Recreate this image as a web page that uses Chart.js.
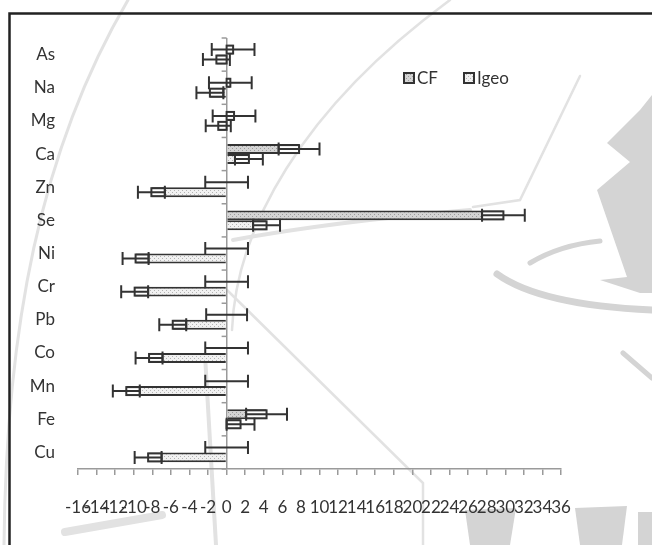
<!DOCTYPE html>
<html>
<head>
<meta charset="utf-8">
<script src="https://cdn.jsdelivr.net/npm/chart.js@4.4.0/dist/chart.umd.min.js"></script>
<style>
  html, body { margin: 0; padding: 0; background: #fff; }
</style>
</head>
<body>
<canvas id="myChart" width="652" height="545"></canvas>
<script>
// categories, top to bottom
const elements = ["As", "Na", "Mg", "Ca", "Zn", "Se", "Ni", "Cr", "Pb", "Co", "Mn", "Fe", "Cu"];
const cfValues = [0.7, 0.4, 0.8, 7.8, 0, 29.8, 0, 0, 0, 0, 0, 4.3, 0];
const cfErrors = [2.3, 2.3, 2.3, 2.2, 2.3, 2.3, 2.3, 2.3, 2.2, 2.3, 2.3, 2.2, 2.3];
const igeoValues = [-1.1, -1.8, -0.9, 2.4, -8.1, 4.3, -9.8, -9.9, -5.8, -8.35, -10.8, 1.5, -8.45];
const igeoErrors = [1.45, 1.45, 1.35, 1.5, 1.45, 1.45, 1.4, 1.45, 1.45, 1.45, 1.45, 1.5, 1.45];
const xMin = -16;
const xMax = 36;
const xStep = 2;

const FONT = "Lato, 'Open Sans', sans-serif";
const ink = "#333";

function dotPattern(bg, dot) {
  const c = document.createElement("canvas");
  c.width = 4;
  c.height = 4;
  const g = c.getContext("2d");
  g.fillStyle = bg;
  g.fillRect(0, 0, 4, 4);
  g.fillStyle = dot;
  g.fillRect(0, 0, 1, 1);
  g.fillRect(2, 2, 1, 1);
  return g.createPattern(c, "repeat");
}
const cfFill = dotPattern("#d4d4d4", "#9c9c9c");
const igeoFill = dotPattern("#f1f1f1", "#b4b4b4");

// faint watermark behind the chart + outer frame
const background = {
  id: "background",
  beforeDraw(chart) {
    const ctx = chart.ctx;
    ctx.save();
    ctx.fillStyle = "#fff";
    ctx.fillRect(0, 0, chart.width, chart.height);

    ctx.strokeStyle = "#e2e2e2";
    ctx.lineCap = "round";
    ctx.lineWidth = 3;
    ctx.beginPath();
    ctx.moveTo(4, 545);
    ctx.bezierCurveTo(6, 330, 40, 150, 128, 0);
    ctx.stroke();
    ctx.lineWidth = 2.5;
    ctx.beginPath();
    ctx.moveTo(232, 330);
    ctx.bezierCurveTo(236, 230, 300, 110, 450, 0);
    ctx.stroke();
    ctx.beginPath();
    ctx.moveTo(473, 207);
    ctx.lineTo(520, 200);
    ctx.lineTo(580, 76);
    ctx.stroke();
    ctx.beginPath();
    ctx.moveTo(227, 290);
    ctx.lineTo(423, 483);
    ctx.lineTo(423, 545);
    ctx.stroke();
    ctx.lineWidth = 4;
    ctx.beginPath();
    ctx.moveTo(233, 240);
    ctx.quadraticCurveTo(330, 222, 470, 210);
    ctx.stroke();
    ctx.beginPath();
    ctx.moveTo(205, 355);
    ctx.lineTo(216, 545);
    ctx.stroke();
    ctx.lineWidth = 8;
    ctx.beginPath();
    ctx.moveTo(65, 532);
    ctx.lineTo(162, 515);
    ctx.stroke();

    ctx.fillStyle = "#d4d4d4";
    ctx.beginPath();
    ctx.moveTo(652, 95);
    ctx.lineTo(640, 110);
    ctx.lineTo(607, 143);
    ctx.lineTo(630, 162);
    ctx.lineTo(597, 190);
    ctx.lineTo(627, 277);
    ctx.lineTo(600, 280);
    ctx.lineTo(640, 293);
    ctx.lineTo(652, 293);
    ctx.closePath();
    ctx.fill();
    ctx.strokeStyle = "#d4d4d4";
    ctx.lineWidth = 7;
    ctx.beginPath();
    ctx.moveTo(497, 274);
    ctx.quadraticCurveTo(540, 305, 652, 310);
    ctx.stroke();
    ctx.lineWidth = 5;
    ctx.beginPath();
    ctx.moveTo(530, 263);
    ctx.quadraticCurveTo(560, 245, 600, 241);
    ctx.stroke();
    ctx.beginPath();
    ctx.moveTo(623, 353);
    ctx.lineTo(652, 378);
    ctx.stroke();
    ctx.beginPath();
    ctx.moveTo(465, 510);
    ctx.lineTo(516, 508);
    ctx.lineTo(510, 545);
    ctx.lineTo(470, 545);
    ctx.closePath();
    ctx.fill();
    ctx.beginPath();
    ctx.moveTo(575, 508);
    ctx.lineTo(627, 506);
    ctx.lineTo(622, 545);
    ctx.lineTo(580, 545);
    ctx.closePath();
    ctx.fill();
    ctx.fillRect(638, 512, 14, 33);

    ctx.strokeStyle = "#222";
    ctx.lineWidth = 2.5;
    ctx.strokeRect(9.5, 13.5, 700, 600);
    ctx.restore();
  },
};

// ticks on the category axis at x = 0, error bars and legend
const overlay = {
  id: "overlay",
  afterDatasetsDraw(chart) {
    const ctx = chart.ctx;
    const xs = chart.scales.x;
    const area = chart.chartArea;
    const x0 = xs.getPixelForValue(0);
    const n = elements.length;

    ctx.save();
    ctx.strokeStyle = "#9a9a9a";
    ctx.lineWidth = 1.5;
    for (let i = 0; i <= n; i++) {
      const y = area.top + (i * (area.bottom - area.top)) / n;
      ctx.beginPath();
      ctx.moveTo(x0 - 5, y);
      ctx.lineTo(x0, y);
      ctx.stroke();
    }

    const errs = [cfErrors, igeoErrors];
    chart.data.datasets.forEach((ds, d) => {
      chart.getDatasetMeta(d).data.forEach((bar, i) => {
        const v = ds.data[i];
        const e = errs[d][i];
        const h = bar.height;
        const y = bar.y;
        const lo = xs.getPixelForValue(v - e);
        const hi = xs.getPixelForValue(v + e);
        const xv = xs.getPixelForValue(v);
        const a = v >= 0 ? Math.max(lo, x0) : xv;
        const b = v >= 0 ? xv : Math.min(hi, x0);
        ctx.strokeStyle = ink;
        ctx.lineWidth = 2;
        if (b - a > 1) {
          ctx.fillStyle = "#fff";
          ctx.fillRect(a, y - h / 2 + 1, b - a, h - 2);
          ctx.strokeRect(a, y - h / 2 + 1, b - a, h - 2);
        }
        ctx.beginPath();
        ctx.moveTo(lo, y);
        ctx.lineTo(hi, y);
        ctx.moveTo(lo, y - 6.5);
        ctx.lineTo(lo, y + 6.5);
        ctx.moveTo(hi, y - 6.5);
        ctx.lineTo(hi, y + 6.5);
        ctx.stroke();
      });
    });

    // legend inside the plot
    const items = [
      { label: chart.data.datasets[0].label, fill: cfFill, x: 404 },
      { label: chart.data.datasets[1].label, fill: igeoFill, x: 464 },
    ];
    ctx.font = "17px " + FONT;
    ctx.textBaseline = "middle";
    ctx.textAlign = "left";
    items.forEach((it) => {
      ctx.fillStyle = it.fill;
      ctx.fillRect(it.x, 73, 10, 10);
      ctx.strokeStyle = ink;
      ctx.lineWidth = 2;
      ctx.strokeRect(it.x, 73, 10, 10);
      ctx.fillStyle = ink;
      ctx.fillText(it.label, it.x + 13, 79);
    });
    ctx.restore();
  },
};

new Chart(document.getElementById("myChart"), {
  type: "bar",
  data: {
    labels: elements,
    datasets: [
      {
        label: "CF",
        data: cfValues,
        backgroundColor: cfFill,
        borderColor: ink,
        borderWidth: 2,
      },
      {
        label: "Igeo",
        data: igeoValues,
        backgroundColor: igeoFill,
        borderColor: ink,
        borderWidth: 2,
      },
    ],
  },
  options: {
    indexAxis: "y",
    responsive: false,
    animation: false,
    categoryPercentage: 0.6,
    barPercentage: 1,
    layout: { padding: { top: 38, right: 91, left: 0, bottom: 0 } },
    plugins: {
      legend: { display: false },
      tooltip: { enabled: false },
    },
    scales: {
      x: {
        min: xMin,
        max: xMax,
        ticks: {
          stepSize: xStep,
          autoSkip: false,
          maxRotation: 0,
          minRotation: 0,
          padding: 22,
          color: ink,
          font: { family: FONT, size: 17 },
        },
        grid: {
          color: (c) => (c.tick && c.tick.value === 0 ? "#9a9a9a" : "rgba(0,0,0,0)"),
          tickColor: "#9a9a9a",
          tickLength: 6,
          lineWidth: 1.5,
        },
        border: { color: "#9a9a9a", width: 1.5 },
        afterFit(s) {
          s.height = 76;
        },
      },
      y: {
        ticks: {
          padding: 23,
          autoSkip: false,
          color: ink,
          font: { family: FONT, size: 17 },
        },
        grid: { display: false, drawTicks: false },
        border: { display: false },
        afterFit(s) {
          s.width = 78;
        },
      },
    },
  },
  plugins: [background, overlay],
});
</script>
</body>
</html>
